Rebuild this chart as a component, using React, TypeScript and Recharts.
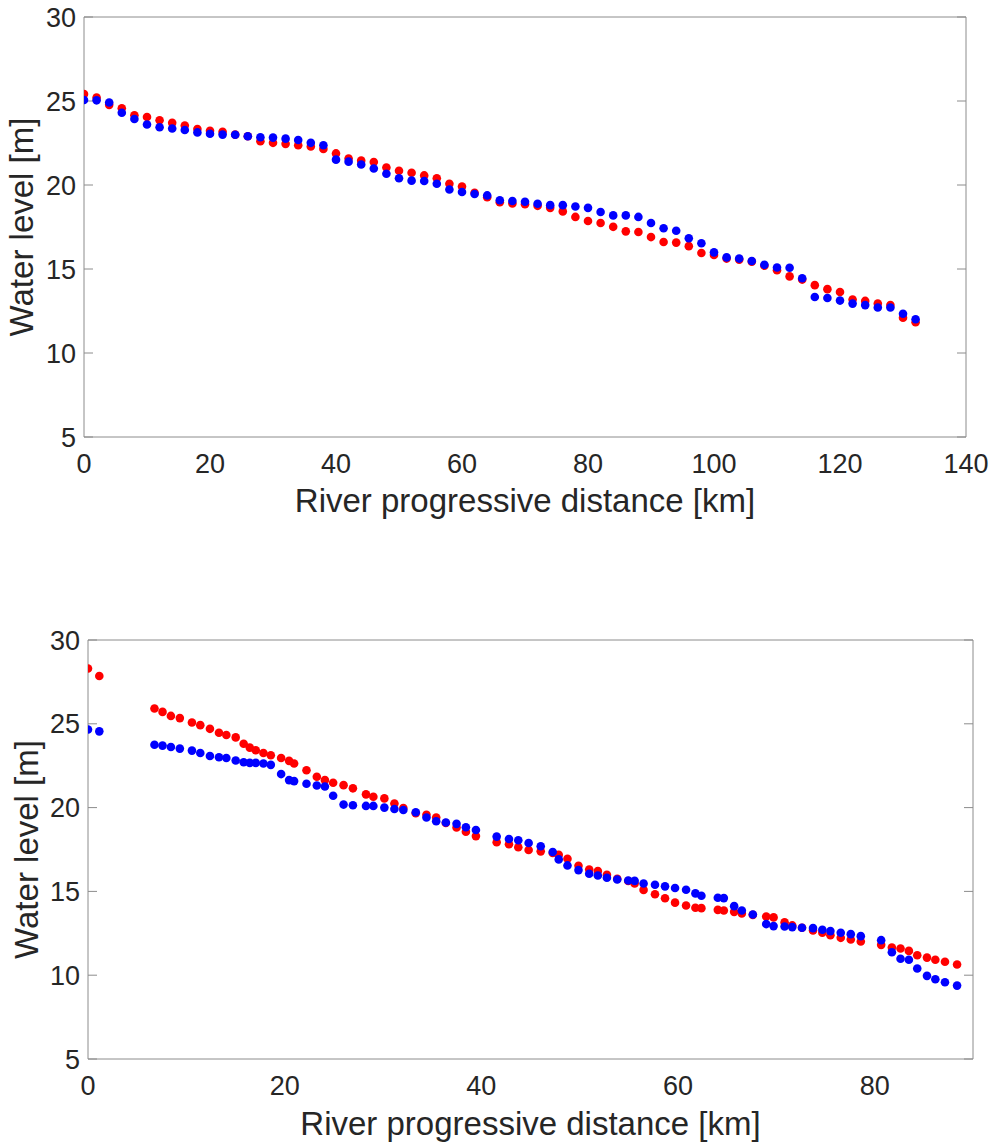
import { ScatterChart, Scatter, XAxis, YAxis } from 'recharts'

// upper panel: stations every 2 km
const topDistance = [
  0, 2, 4, 6, 8, 10, 12, 14, 16, 18, 20, 22, 24, 26, 28, 30, 32, 34, 36, 38,
  40, 42, 44, 46, 48, 50, 52, 54, 56, 58, 60, 62, 64, 66, 68, 70, 72, 74, 76, 78,
  80, 82, 84, 86, 88, 90, 92, 94, 96, 98, 100, 102, 104, 106, 108, 110, 112, 114,
  116, 118, 120, 122, 124, 126, 128, 130, 132,
]
const topRed = [
  25.41, 25.2, 24.77, 24.57, 24.15, 24.05, 23.85, 23.7, 23.54, 23.33, 23.23, 23.17,
  23.0, 22.9, 22.6, 22.51, 22.45, 22.37, 22.29, 22.15, 21.88, 21.57, 21.45, 21.37,
  21.04, 20.85, 20.73, 20.57, 20.4, 20.07, 19.91, 19.54, 19.27, 18.97, 18.9, 18.86,
  18.76, 18.64, 18.43, 18.1, 17.86, 17.74, 17.51, 17.24, 17.2, 16.9, 16.61, 16.57,
  16.36, 15.95, 15.83, 15.62, 15.56, 15.44, 15.19, 14.93, 14.56, 14.37, 14.04, 13.8,
  13.63, 13.18, 13.1, 12.94, 12.85, 12.1, 11.83,
]
const topBlue = [
  25.06, 25.04, 24.91, 24.3, 23.93, 23.6, 23.44, 23.36, 23.27, 23.13, 23.05, 23.0,
  22.99, 22.9, 22.84, 22.82, 22.76, 22.68, 22.51, 22.37, 21.51, 21.39, 21.22, 20.98,
  20.67, 20.4, 20.26, 20.24, 20.07, 19.73, 19.58, 19.46, 19.38, 19.09, 19.05, 19.0,
  18.88, 18.8, 18.8, 18.72, 18.64, 18.39, 18.19, 18.19, 18.1, 17.74, 17.43, 17.28,
  16.83, 16.53, 15.99, 15.69, 15.62, 15.48, 15.25, 15.09, 15.07, 14.45, 13.33, 13.27,
  13.12, 12.94, 12.85, 12.71, 12.71, 12.34, 12.01,
]

// lower panel
const bottomDistance = [
  0, 1.15, 6.76, 7.58, 8.43, 9.34, 10.57, 11.42, 12.4, 13.32, 14.07, 15.02, 15.83,
  16.45, 17.06, 17.84, 18.59, 19.64, 20.45, 20.96, 22.22, 23.27, 24.09, 24.93, 25.99,
  26.94, 28.27, 29.02, 30.14, 31.16, 32.07, 33.33, 34.42, 35.41, 36.39, 37.48, 38.43,
  39.45, 41.56, 42.81, 43.76, 44.81, 46.04, 47.26, 47.87, 48.76, 49.88, 50.97, 51.85,
  52.77, 53.82, 54.94, 55.59, 56.5, 57.66, 58.68, 59.7, 60.82, 61.77, 62.38, 64.05,
  64.66, 65.71, 66.49, 67.61, 68.97, 69.72, 70.84, 71.62, 72.61, 73.73, 74.68, 75.5,
  76.55, 77.57, 78.59, 80.66, 81.75, 82.63, 83.48, 84.33, 85.32, 86.17, 87.15, 88.38,
]
const bottomRed = [
  28.3, 27.85, 25.91, 25.71, 25.47, 25.34, 25.08, 24.92, 24.7, 24.47, 24.33, 24.19,
  23.81, 23.58, 23.42, 23.26, 23.12, 22.96, 22.79, 22.63, 22.23, 21.84, 21.64, 21.48,
  21.34, 21.15, 20.79, 20.65, 20.55, 20.24, 19.98, 19.66, 19.57, 19.41, 19.08, 18.81,
  18.56, 18.3, 17.93, 17.81, 17.63, 17.47, 17.39, 17.29, 17.19, 16.95, 16.53, 16.31,
  16.21, 15.99, 15.75, 15.62, 15.47, 15.09, 14.83, 14.59, 14.33, 14.16, 14.02, 14.0,
  13.9, 13.86, 13.78, 13.68, 13.6, 13.5, 13.45, 13.15, 12.97, 12.83, 12.67, 12.53,
  12.39, 12.23, 12.13, 12.01, 11.81, 11.65, 11.59, 11.45, 11.19, 11.05, 10.92, 10.8,
  10.64,
]
const bottomBlue = [
  24.66, 24.55, 23.75, 23.7, 23.62, 23.52, 23.4, 23.26, 23.08, 23.0, 22.96, 22.81,
  22.71, 22.67, 22.67, 22.63, 22.55, 22.0, 21.64, 21.58, 21.42, 21.32, 21.26, 20.71,
  20.18, 20.14, 20.1, 20.1, 20.0, 19.92, 19.86, 19.72, 19.41, 19.19, 19.11, 19.03,
  18.83, 18.66, 18.27, 18.13, 18.05, 17.89, 17.69, 17.35, 16.91, 16.55, 16.27, 16.05,
  15.95, 15.81, 15.71, 15.65, 15.63, 15.47, 15.4, 15.3, 15.2, 15.1, 14.88, 14.74,
  14.62, 14.6, 14.12, 13.86, 13.62, 13.05, 12.93, 12.91, 12.87, 12.83, 12.81, 12.71,
  12.63, 12.53, 12.45, 12.33, 12.09, 11.37, 10.98, 10.92, 10.4, 9.96, 9.76, 9.58,
  9.38,
]

const topXTicks = [0, 20, 40, 60, 80, 100, 120, 140]
const bottomXTicks = [0, 20, 40, 60, 80]
const levelTicks = [5, 10, 15, 20, 25, 30]

const AXIS = '#8c8c8c'
const TEXT = '#262626'
const FONT = '"Liberation Sans", Arial, Helvetica, sans-serif'

const toPoints = (xs: number[], ys: number[]) => xs.map((x, i) => ({ x, y: ys[i] }))

const dot = (color: string) => (p: any) => <circle cx={p.cx} cy={p.cy} r={4.3} fill={color} />
const noLabel = () => <g />

type PanelProps = {
  distance: number[]
  red: number[]
  blue: number[]
  xMax: number
  xTicks: number[]
  height: number
  top: number
  right: number
  yAxisWidth: number
  xAxisHeight: number
  xLabelOffset: number
  yLabelOffset: number
}

function Panel(p: PanelProps) {
  const xDomain = [0, p.xMax]
  const yDomain = [5, 30]
  // inward box ticks come from mirrored axes
  const boxX = { type: 'number' as const, domain: xDomain, ticks: p.xTicks, allowDataOverflow: true, tick: noLabel, tickSize: 9, interval: 0 as const, stroke: AXIS }
  const boxY = { type: 'number' as const, domain: yDomain, ticks: levelTicks, allowDataOverflow: true, tick: noLabel, tickSize: 9, interval: 0 as const, stroke: AXIS }

  return (
    <ScatterChart width={993} height={p.height} margin={{ top: p.top, right: p.right, bottom: 0, left: 0 }}>
      <XAxis
        xAxisId="x"
        dataKey="x"
        type="number"
        domain={xDomain}
        ticks={p.xTicks}
        allowDataOverflow
        interval={0}
        height={p.xAxisHeight}
        axisLine={false}
        tickLine={false}
        tickSize={0}
        tickMargin={17}
        tick={{ fontSize: 27, fill: TEXT, fontFamily: FONT }}
        label={{
          value: 'River progressive distance [km]',
          position: 'insideBottom',
          offset: p.xLabelOffset,
          fontSize: 33,
          fill: TEXT,
          fontFamily: FONT,
        }}
      />
      <XAxis xAxisId="xb" orientation="bottom" mirror {...boxX} />
      <XAxis xAxisId="xt" orientation="top" mirror {...boxX} />
      <YAxis
        yAxisId="y"
        dataKey="y"
        type="number"
        domain={yDomain}
        ticks={levelTicks}
        allowDataOverflow
        interval={0}
        width={p.yAxisWidth}
        axisLine={false}
        tickLine={false}
        tickSize={0}
        tickMargin={8}
        tick={{ fontSize: 27, fill: TEXT, fontFamily: FONT }}
        label={{
          value: 'Water level [m]',
          angle: -90,
          position: 'insideLeft',
          offset: p.yLabelOffset,
          fontSize: 33,
          fill: TEXT,
          fontFamily: FONT,
          style: { textAnchor: 'middle' },
        }}
      />
      <YAxis yAxisId="yl" orientation="left" mirror {...boxY} />
      <YAxis yAxisId="yr" orientation="right" mirror {...boxY} />
      <Scatter
        xAxisId="x"
        yAxisId="y"
        data={toPoints(p.distance, p.red)}
        shape={dot('#ff0000')}
        isAnimationActive={false}
      />
      <Scatter
        xAxisId="x"
        yAxisId="y"
        data={toPoints(p.distance, p.blue)}
        shape={dot('#0000ff')}
        isAnimationActive={false}
      />
    </ScatterChart>
  )
}

export default function App() {
  return (
    <div style={{ position: 'absolute', left: 0, top: 0, width: 993, height: 1144, background: '#fff' }}>
      <div style={{ position: 'absolute', left: 0, top: 0 }}>
        <Panel
          distance={topDistance}
          red={topRed}
          blue={topBlue}
          xMax={140}
          xTicks={topXTicks}
          height={540}
          top={17}
          right={27}
          yAxisWidth={84}
          xAxisHeight={103}
          xLabelOffset={28}
          yLabelOffset={21}
        />
      </div>
      <div style={{ position: 'absolute', left: 0, top: 540 }}>
        <Panel
          distance={bottomDistance}
          red={bottomRed}
          blue={bottomBlue}
          xMax={90}
          xTicks={bottomXTicks}
          height={604}
          top={100}
          right={20}
          yAxisWidth={88}
          xAxisHeight={85}
          xLabelOffset={9}
          yLabelOffset={26}
        />
      </div>
    </div>
  )
}
